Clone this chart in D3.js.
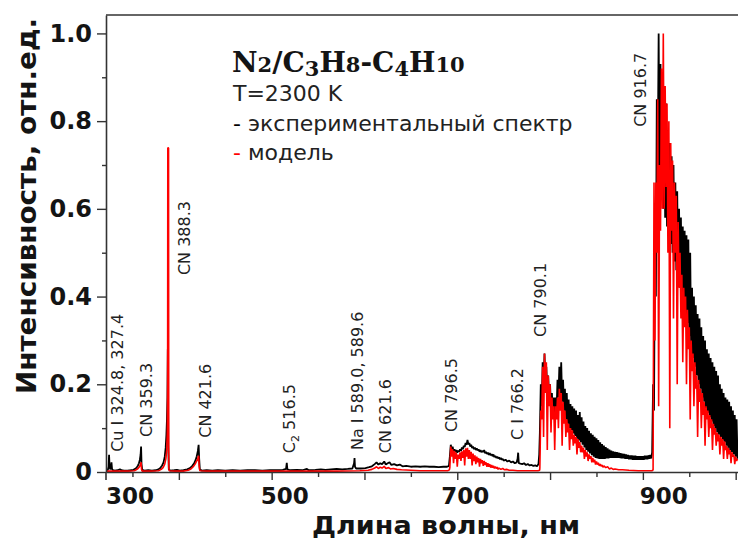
<!DOCTYPE html>
<html>
<head>
<meta charset="utf-8">
<script src="https://cdn.jsdelivr.net/npm/d3@7"></script>
<style>
  body { margin: 0; background: #fff; }
  svg { display: block; }
</style>
</head>
<body>
<svg id="chart" width="738" height="539"></svg>
<script>
// Experimental emission spectrum, [wavelength nm, relative intensity]
const expSpectrum = [
  [321.5,0.004],[322.5,0.003],[323.5,0.005],[324.3,0.012],[324.8,0.039],[325.3,0.015],[326,0.006],[326.8,0.009],
  [327.4,0.022],[328,0.007],[329,0.004],[331,0.003],[334,0.004],[336.5,0.006],[338,0.004],[341,0.003],[345,0.003],
  [348,0.004],[351,0.005],[353,0.007],[354.5,0.01],[356,0.015],[357,0.02],[358,0.028],[358.8,0.04],[359.3,0.058],
  [359.8,0.018],[360.5,0.005],[363,0.003],[367,0.004],[371,0.003],[375,0.004],[378,0.006],[380,0.009],[382,0.015],
  [383.5,0.022],[384.8,0.035],[385.8,0.055],[386.6,0.085],[387.2,0.12],[387.7,0.17],[388.1,0.28],[388.6,0.06],
  [389.2,0.006],[391,0.003],[395,0.004],[398,0.005],[401,0.003],[405,0.004],[409,0.006],[412,0.009],[414.5,0.014],
  [416.5,0.02],[418,0.027],[419.3,0.036],[420.5,0.048],[421.3,0.062],[421.9,0.03],[422.6,0.006],[425,0.003],
  [430,0.004],[436,0.003],[442,0.004],[450,0.003],[458,0.004],[466,0.003],[474,0.004],[482,0.004],[490,0.003],
  [498,0.004],[506,0.004],[512,0.005],[515.5,0.007],[516.3,0.021],[516.9,0.006],[520,0.004],[527,0.005],[533,0.004],
  [538,0.007],[540,0.004],[547,0.005],[553,0.006],[558,0.005],[564,0.006],[570,0.007],[576,0.006],[582,0.007],
  [587,0.008],[588.8,0.02],[589.3,0.032],[589.8,0.012],[591,0.008],[596,0.008],[601,0.009],[605,0.011],[608,0.013],
  [611,0.018],[613,0.022],[615,0.017],[617,0.02],[619,0.018],[621.3,0.024],[623,0.017],[625,0.02],[627,0.022],
  [629,0.016],[632,0.018],[635,0.015],[638,0.017],[641,0.013],[645,0.014],[650,0.012],[655,0.013],[660,0.012],
  [665,0.013],[670,0.012],[675,0.012],[680,0.011],[685,0.012],[689,0.012],[691,0.014],
  [692,0.035],[693,0.062],[694,0.052],[695,0.058],[696,0.047],[697,0.052],[698,0.045],[699,0.05],[700,0.044],
  [701,0.049],[702,0.046],[703,0.052],[704,0.048],[705,0.056],[706,0.052],[707,0.06],[708,0.057],[709,0.066],
  [710,0.062],[711,0.073],[712,0.063],[713,0.066],[714,0.058],[715,0.062],[716,0.055],[717,0.058],[718,0.052],
  [719,0.056],[720,0.05],[721,0.054],[722,0.049],[723,0.052],[724,0.046],[725,0.05],[726,0.045],[727,0.048],
  [728,0.046],[729,0.05],[730,0.043],[731,0.046],[732,0.041],[733,0.044],[734,0.039],[735,0.043],[736,0.038],
  [737,0.041],[738,0.036],[739,0.04],[740,0.034],[741,0.037],[742,0.032],[743,0.035],[744,0.031],[745,0.033],
  [746,0.029],[747,0.032],[748,0.028],[749,0.03],[750,0.026],[752,0.028],[754,0.024],[756,0.026],[758,0.022],
  [760,0.024],[762,0.02],[764,0.022],[765,0.03],[765.6,0.044],[766.3,0.02],[768,0.019],[770,0.018],[772,0.02],
  [774,0.016],[776,0.018],[778,0.015],[780,0.016],[782,0.014],[784,0.015],[786,0.013],[787.5,0.018],[788.3,0.04],
  [789,0.09],[790,0.2],[791,0.15],[792,0.25],[793,0.2],[794,0.27],[795,0.2],[796,0.24],[797,0.18],[798,0.22],
  [799,0.16],[800,0.2],[801,0.14],[802,0.18],[803,0.13],[804,0.17],[805,0.125],[806,0.17],[807,0.14],[808,0.21],
  [809,0.17],[810,0.24],[811,0.18],[812,0.25],[813,0.16],[814,0.21],[815,0.14],[816,0.19],[817,0.12],[818,0.18],
  [819,0.11],[820,0.165],[821,0.1],[822,0.155],[823,0.095],[824,0.15],[825,0.088],[826,0.145],[827,0.082],
  [828,0.14],[829,0.076],[830,0.13],[831,0.072],[832,0.137],[833,0.068],[834,0.125],[835,0.062],[836,0.115],
  [837,0.056],[838,0.105],[839,0.05],[840,0.1],[841,0.046],[842,0.094],[843,0.042],[844,0.088],[845,0.038],
  [846,0.085],[847,0.035],[848,0.08],[849,0.032],[850,0.077],[851,0.031],[852,0.073],[853,0.03],[854,0.068],
  [855,0.03],[856,0.064],[857,0.03],[858,0.06],[859,0.03],[860,0.057],[861,0.031],[862,0.054],[863,0.031],
  [864,0.051],[865,0.032],[866,0.049],[867,0.032],[868,0.047],[869,0.032],[870,0.046],[871,0.032],[872,0.045],
  [873,0.032],[874,0.044],[875,0.032],[876,0.043],[877,0.031],[878,0.042],[879,0.031],[880,0.041],[881,0.03],
  [882,0.04],[883,0.03],[884,0.039],[885,0.029],[886,0.038],[887,0.029],[888,0.038],[889,0.028],[890,0.037],
  [891,0.028],[892,0.037],[893,0.028],[894,0.036],[895,0.028],[896,0.036],[897,0.028],[898,0.036],[899,0.028],
  [900,0.036],[901,0.028],[902,0.037],[903,0.029],[904,0.037],[905,0.029],[906,0.038],[907,0.03],[908,0.039],
  [909,0.031],[910,0.045],[911,0.2],[912,0.14],[913,0.55],[914,0.4],[915,0.85],[916,0.7],[917,1.0],[918,0.65],
  [919,0.93],[920,0.62],[921,0.9],[922,0.6],[923,0.86],[924,0.58],[925,0.84],[926,0.56],[927,0.78],[928,0.55],
  [929,0.75],[930,0.52],[931,0.72],[932,0.5],[933,0.7],[934,0.48],[935,0.66],[936,0.46],[937,0.64],[938,0.44],
  [939,0.6],[940,0.42],[941,0.58],[942,0.4],[943,0.56],[944,0.38],[945,0.55],[946,0.36],[947,0.54],[948,0.34],
  [949,0.53],[950,0.31],[951,0.5],[952,0.28],[953,0.42],[954,0.26],[955,0.4],[956,0.24],[957,0.38],[958,0.22],
  [959,0.36],[960,0.2],[961,0.35],[962,0.19],[963,0.33],[964,0.17],[965,0.31],[966,0.16],[967,0.3],[968,0.145],
  [969,0.28],[970,0.135],[971,0.27],[972,0.125],[973,0.26],[974,0.115],[975,0.25],[976,0.105],[977,0.24],
  [978,0.1],[979,0.23],[980,0.09],[981,0.22],[982,0.085],[983,0.2],[984,0.08],[985,0.19],[986,0.072],[987,0.18],
  [988,0.068],[989,0.17],[990,0.06],[991,0.165],[992,0.055],[993,0.16],[994,0.05],[995,0.15],[996,0.045],
  [997,0.14],[998,0.04],[999,0.13],[1000,0.035],[1001,0.12],[1002,0.03]
];

// Model spectrum at T = 2300 K, [wavelength nm, relative intensity]
const modelSpectrum = [
  [321.5,0.002],[330,0.002],[345,0.002],[352,0.003],[354,0.005],[356,0.008],[357.5,0.012],[358.6,0.017],
  [359.3,0.022],[359.8,0.006],[360.5,0.002],[370,0.002],[378,0.003],[381,0.006],[383,0.01],[384.8,0.018],
  [386,0.03],[387,0.05],[387.6,0.09],[387.9,0.2],[388.1,0.739],[388.9,0.739],[389.1,0.01],[389.6,0.003],
  [395,0.002],[405,0.002],[410,0.004],[413,0.007],[415.5,0.012],[417.5,0.018],[419,0.024],[420.3,0.03],
  [421.3,0.037],[421.9,0.012],[422.6,0.003],[430,0.002],[450,0.002],[480,0.002],[510,0.002],[540,0.002],
  [570,0.002],[595,0.003],[604,0.004],[608,0.006],[611,0.009],[613,0.012],[615,0.008],[617,0.011],[619,0.009],
  [621.3,0.013],[623,0.008],[626,0.01],[628,0.007],[631,0.008],[635,0.006],[640,0.005],[650,0.004],[660,0.003],
  [670,0.003],[680,0.003],[690,0.003],[691.5,0.005],
  [692,0.01],[693,0.058],[694,0.035],[695,0.052],[696,0.02],[697,0.048],[698,0.03],[699,0.044],[700,0.012],
  [701,0.04],[702,0.03],[703,0.045],[704,0.025],[705,0.047],[706,0.032],[707,0.05],[708,0.015],[709,0.054],
  [710,0.035],[711,0.055],[712,0.03],[713,0.05],[714,0.03],[715,0.046],[716,0.015],[717,0.042],[718,0.025],
  [719,0.038],[720,0.018],[721,0.035],[722,0.022],[723,0.032],[724,0.012],[725,0.03],[726,0.02],[727,0.027],
  [728,0.014],[729,0.025],[730,0.016],[731,0.022],[732,0.012],[733,0.02],[734,0.012],[735,0.018],[736,0.01],
  [737,0.016],[738,0.01],[739,0.014],[740,0.008],[741,0.012],[742,0.008],[743,0.011],[744,0.006],[745,0.009],
  [747,0.006],[749,0.008],[751,0.005],[753,0.006],[756,0.004],[760,0.004],[765,0.003],[770,0.003],[780,0.003],
  [787,0.003],[788.8,0.004],
  [789,0.01],[790,0.14],[791,0.12],[792,0.24],[793,0.08],[794,0.27],[795,0.18],[796,0.25],[797,0.05],[798,0.22],
  [799,0.15],[800,0.2],[801,0.09],[802,0.17],[803,0.12],[804,0.15],[805,0.05],[806,0.15],[807,0.12],[808,0.17],
  [809,0.1],[810,0.19],[811,0.14],[812,0.18],[813,0.06],[814,0.16],[815,0.11],[816,0.14],[817,0.08],[818,0.12],
  [819,0.09],[820,0.11],[821,0.05],[822,0.1],[823,0.075],[824,0.095],[825,0.06],[826,0.085],[827,0.065],[828,0.08],
  [829,0.04],[830,0.075],[831,0.055],[832,0.068],[833,0.045],[834,0.06],[835,0.045],[836,0.055],[837,0.03],
  [838,0.05],[839,0.035],[840,0.045],[841,0.025],[842,0.04],[843,0.03],[844,0.036],[845,0.022],[846,0.032],
  [847,0.022],[848,0.028],[849,0.017],[850,0.024],[851,0.017],[852,0.021],[853,0.014],[854,0.018],[855,0.013],
  [856,0.016],[857,0.011],[858,0.014],[860,0.01],[862,0.012],[864,0.007],[866,0.009],[868,0.006],[870,0.007],
  [874,0.005],[878,0.005],[885,0.004],[895,0.003],[905,0.003],[910,0.003],
  [911,0.005],[912,0.66],[913,0.3],[914,0.66],[915,0.5],[916,0.85],[917,0.15],[918,0.7],[919,0.55],[920,0.92],
  [921,0.6],[922,1.0],[923,0.6],[924,0.88],[925,0.65],[926,0.84],[927,0.5],[928,0.8],[929,0.1],[930,0.75],
  [931,0.55],[932,0.71],[933,0.35],[934,0.66],[935,0.5],[936,0.63],[937,0.2],[938,0.57],[939,0.42],[940,0.5],
  [941,0.35],[942,0.45],[943,0.25],[944,0.42],[945,0.33],[946,0.4],[947,0.2],[948,0.37],[949,0.28],[950,0.33],
  [951,0.12],[952,0.3],[953,0.23],[954,0.27],[955,0.15],[956,0.25],[957,0.19],[958,0.22],[959,0.08],[960,0.21],
  [961,0.16],[962,0.19],[963,0.1],[964,0.18],[965,0.13],[966,0.16],[967,0.06],[968,0.15],[969,0.12],[970,0.14],
  [971,0.08],[972,0.13],[973,0.1],[974,0.12],[975,0.05],[976,0.11],[977,0.085],[978,0.1],[979,0.06],[980,0.09],
  [981,0.07],[982,0.085],[983,0.04],[984,0.08],[985,0.06],[986,0.075],[987,0.03],[988,0.07],[989,0.05],[990,0.06],
  [991,0.03],[992,0.055],[993,0.04],[994,0.05],[995,0.02],[996,0.045],[997,0.035],[998,0.04],[999,0.018],
  [1000,0.035],[1001,0.025],[1002,0.03]
];

// Axis ticks
const yTickValues = [0, 0.2, 0.4, 0.6, 0.8, 1.0];
const yTickLabels = ["0", "0.2", "0.4", "0.6", "0.8", "1.0"];
const yMinorTicks = [0.1, 0.3, 0.5, 0.7, 0.9];
const xTickValues = [350, 400, 450, 500, 550, 600, 650, 700, 750, 800, 850, 900, 950, 1000];
const xLabelValues = [300, 500, 700, 900];
const xLabelTexts = ["300", "500", "700", "900"];

// Line identifications ("|" marks a subscript)
const peakLabels = ["Cu I 324.8, 327.4", "CN 359.3", "CN 388.3", "CN 421.6", "C|2| 516.5",
  "Na I 589.0, 589.6", "CN 621.6", "CN 796.5", "C I 766.2", "CN 790.1", "CN 916.7"];

const titleText = "N2/C3H8-C4H10";
const tempText = "T=2300 K";
const seriesNames = ["экспериментальный спектр", "модель"];
const seriesColors = ["#000000", "#ff0000"];
const xTitle = "Длина волны, нм";
const yTitle = "Интенсивность, отн.ед.";

// ---- drawing ----
const svg = d3.select("#chart");
const plot = { left: 106, right: 738, top: 15, bottom: 472 };

const x = d3.scaleLinear().domain([321.5, 1002.5]).range([plot.left, plot.right]);
const y = d3.scaleLinear().domain([0, 1.042]).range([plot.bottom, plot.top]);

const ink = "#141414";
const axisColor = "#333";

svg.append("defs").append("clipPath").attr("id", "plotClip")
  .append("rect")
  .attr("x", plot.left).attr("y", plot.top)
  .attr("width", plot.right - plot.left).attr("height", plot.bottom - plot.top + 1);

const line = d3.line().x(d => x(d[0])).y(d => y(d[1]));

const traces = svg.append("g").attr("clip-path", "url(#plotClip)");
traces.append("path").datum(expSpectrum)
  .attr("d", line).attr("fill", "none")
  .attr("stroke", seriesColors[0]).attr("stroke-width", 1.8)
  .attr("stroke-linejoin", "bevel");
traces.append("path").datum(modelSpectrum)
  .attr("d", line).attr("fill", "none")
  .attr("stroke", seriesColors[1]).attr("stroke-width", 1.6)
  .attr("stroke-linejoin", "bevel");

// frame top line
svg.append("line")
  .attr("x1", plot.left).attr("x2", plot.right)
  .attr("y1", plot.top).attr("y2", plot.top)
  .attr("stroke", axisColor).attr("stroke-width", 1.6);

// y axis
const yAxis = svg.append("g").attr("transform", `translate(${plot.left},0)`)
  .call(d3.axisLeft(y).tickValues(yTickValues)
    .tickFormat((d, i) => yTickLabels[i]).tickSize(9).tickSizeOuter(0).tickPadding(5));
svg.append("g").attr("transform", `translate(${plot.left},0)`)
  .call(d3.axisLeft(y).tickValues(yMinorTicks).tickFormat("").tickSize(4).tickSizeOuter(0))
  .select(".domain").remove();

// x axis
const xAxis = svg.append("g").attr("transform", `translate(0,${plot.bottom})`)
  .call(d3.axisBottom(x).tickValues(xTickValues).tickFormat("")
    .tickSize(5).tickSizeOuter(0));
xAxis.selectAll(".tick line").attr("y2", d => d % 100 === 0 ? 8 : 5);

svg.selectAll(".domain").attr("stroke", axisColor).attr("stroke-width", 1.6);
svg.selectAll(".tick line").attr("stroke", axisColor).attr("stroke-width", 1.4);
yAxis.selectAll(".tick text")
  .attr("font-family", "'DejaVu Sans', Verdana, sans-serif")
  .attr("font-weight", "bold").attr("font-size", 24).attr("fill", ink);

// left axis line runs slightly past the origin
svg.append("line")
  .attr("x1", plot.left).attr("x2", plot.left)
  .attr("y1", plot.bottom).attr("y2", plot.bottom + 8)
  .attr("stroke", axisColor).attr("stroke-width", 1.6);

// x tick labels sit a little right of their ticks
const xLabelShift = { 300: 44, 500: 13, 700: 8, 900: 21 };
svg.append("g").selectAll("text").data(xLabelValues).join("text")
  .attr("x", d => x(d) + xLabelShift[d])
  .attr("y", 504)
  .attr("text-anchor", "middle")
  .attr("font-family", "'DejaVu Sans', Verdana, sans-serif")
  .attr("font-weight", "bold").attr("font-size", 23).attr("fill", ink)
  .text((d, i) => xLabelTexts[i]);

// axis titles
svg.append("text")
  .attr("x", 446).attr("y", 534)
  .attr("text-anchor", "middle")
  .attr("font-family", "'DejaVu Sans', Verdana, sans-serif")
  .attr("font-weight", "bold").attr("font-size", 24).attr("fill", ink)
  .attr("textLength", 268).attr("lengthAdjust", "spacingAndGlyphs")
  .text(xTitle);

svg.append("text")
  .attr("transform", "translate(36,206) rotate(-90)")
  .attr("text-anchor", "middle")
  .attr("font-family", "'DejaVu Sans', Verdana, sans-serif")
  .attr("font-weight", "bold").attr("font-size", 27).attr("fill", ink)
  .attr("textLength", 376).attr("lengthAdjust", "spacingAndGlyphs")
  .text(yTitle);

// title; numerals drawn small, with 3 and 4 dropping below the line
const title = svg.append("text")
  .attr("x", 232).attr("y", 72)
  .attr("font-family", "'DejaVu Serif', Georgia, serif")
  .attr("font-weight", "bold").attr("font-size", 28).attr("fill", ink);
let lowered = false;
titleText.split("").forEach(ch => {
  const t = title.append("tspan").text(ch);
  const isDigit = /[0-9]/.test(ch);
  const drop = ch === "3" || ch === "4";
  if (isDigit) t.attr("font-size", 21);
  if (drop && !lowered) { t.attr("dy", 4); lowered = true; }
  else if (!drop && lowered) { t.attr("dy", -4); lowered = false; }
});

// legend
const legendFont = "'DejaVu Sans', Verdana, sans-serif";
svg.append("text").attr("x", 233).attr("y", 101)
  .attr("font-family", legendFont).attr("font-size", 22).attr("fill", "#222")
  .text(tempText);
seriesNames.forEach((name, i) => {
  const t = svg.append("text").attr("x", 233).attr("y", 131 + i * 29)
    .attr("font-family", legendFont).attr("font-size", 22).attr("fill", "#222");
  t.append("tspan").attr("fill", seriesColors[i]).text("-");
  t.append("tspan").text(" " + name);
});

// rotated line identifications, anchored at [wavelength, intensity] of their lower end
const peakAnchors = [
  [333.4, 0.046], [364.6, 0.080], [405.5, 0.449], [428.2, 0.078], [518.7, 0.043],
  [592.0, 0.050], [622.1, 0.043], [693.3, 0.091], [764.4, 0.073], [789.2, 0.308], [897.0, 0.787]
];
const peaks = svg.append("g")
  .attr("font-family", legendFont).attr("font-size", 16).attr("fill", "#222");
peakLabels.forEach((label, i) => {
  const [wl, level] = peakAnchors[i];
  const t = peaks.append("text")
    .attr("transform", `translate(${x(wl) + 6},${y(level)}) rotate(-90)`);
  label.split("|").forEach((p, j) => {
    const s = t.append("tspan").text(p);
    if (j === 1) s.attr("font-size", 11).attr("dy", 4);
    if (j === 2) s.attr("dy", -4);
  });
});
</script>
</body>
</html>
